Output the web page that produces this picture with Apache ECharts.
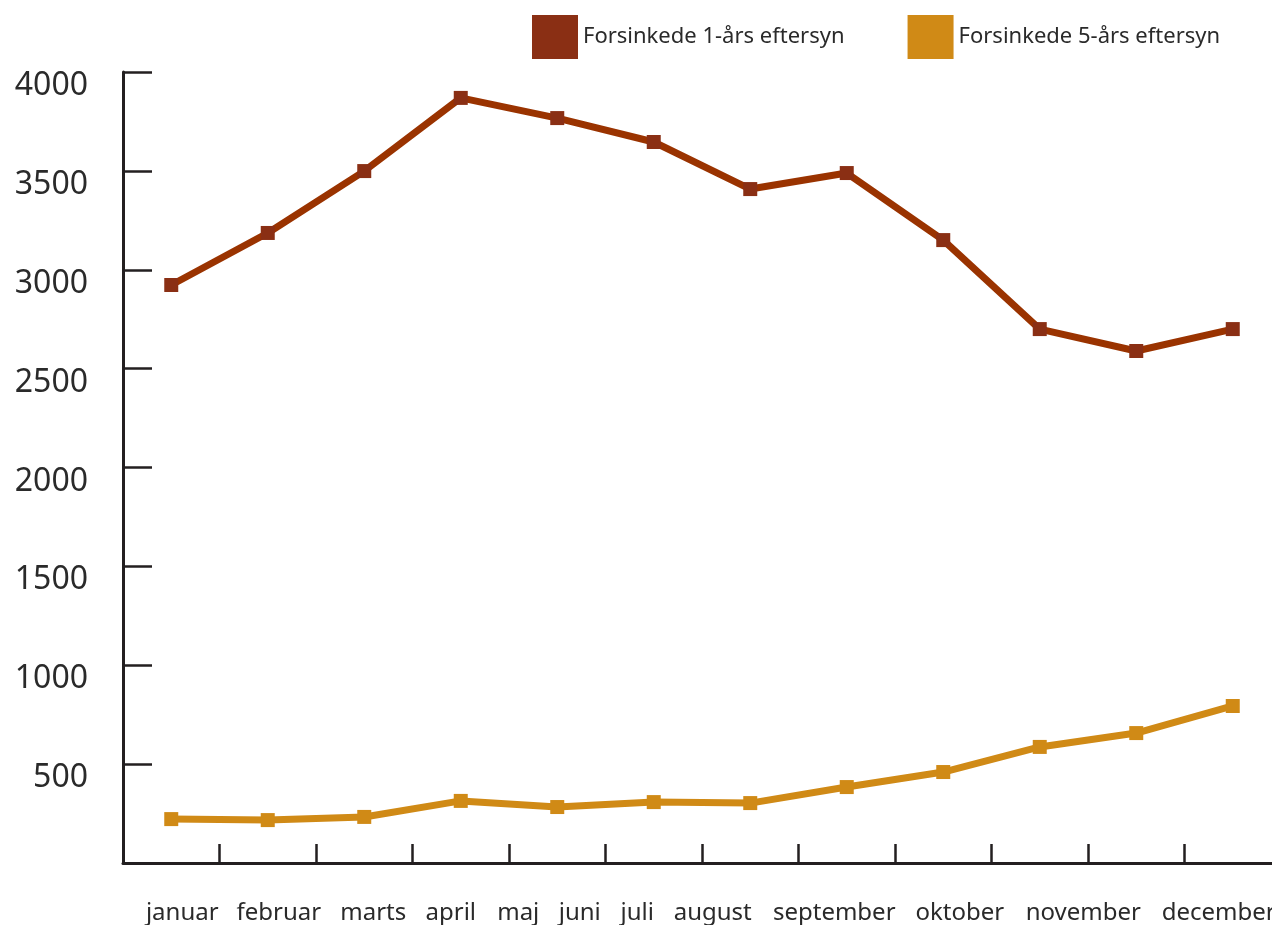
<!DOCTYPE html>
<html>
<head>
<meta charset="utf-8">
<script src="https://cdn.jsdelivr.net/npm/echarts@6/dist/echarts.min.js"></script>
<style>
html,body{margin:0;padding:0;background:#fff;}
#chart{width:1272px;height:925px;}
</style>
</head>
<body>
<div id="chart"></div>
<script>
var months = ['januar','februar','marts','april','maj','juni','juli','august','september','oktober','november','december'];
var seriesNames = ['Forsinkede 1-års eftersyn','Forsinkede 5-års eftersyn'];
var delayed1yr = [2923, 3186, 3499, 3869, 3767, 3646, 3408, 3489, 3150, 2700, 2589, 2700];
var delayed5yr = [222, 217, 233, 314, 283, 308, 303, 384, 460, 587, 657, 794];
var yTicks = [0, 500, 1000, 1500, 2000, 2500, 3000, 3500, 4000];

// label horizontal shifts (px) to mimic the reference's sequential label layout
var labelShift = [11, 11, 9, -10, -39, -74, -113, -134, -109, -80, -53, -14];

var FONT = 'Noto Sans';
var AXIS = '#231F20';
var rich = {};
labelShift.forEach(function (d, i) {
  var pad = d >= 0 ? [0, 0, 0, 2 * d] : [0, -2 * d, 0, 0];
  rich['l' + i] = { padding: pad, fontSize: 24, fontFamily: FONT, color: '#2a2a2a' };
});

var chart = echarts.init(document.getElementById('chart'));
chart.setOption({
  backgroundColor: '#ffffff',
  animation: false,
  legend: {
    left: 532, top: 15, padding: 0,
    itemWidth: 46, itemHeight: 44, itemGap: 63,
    icon: 'rect',
    textStyle: { fontFamily: FONT, fontSize: 22, color: '#2a2a2a' },
    data: [
      { name: seriesNames[0], itemStyle: { color: '#8A2F14' } },
      { name: seriesNames[1], itemStyle: { color: '#D08A16' } }
    ]
  },
  grid: { left: 123, top: 72, bottom: 62, width: 1158, containLabel: false, outerBoundsMode: 'none' },
  xAxis: {
    type: 'category',
    data: months,
    boundaryGap: true,
    axisLine: { lineStyle: { color: AXIS, width: 3 } },
    axisTick: { show: true, interval: 0, inside: true, length: 19, lineStyle: { color: AXIS, width: 2.5 } },
    axisLabel: {
      margin: 38, interval: 0,
      fontFamily: FONT, fontSize: 24, color: '#2a2a2a',
      formatter: function (v, i) { return '{l' + i + '|' + v + '}'; },
      rich: rich
    },
    splitLine: { show: false }
  },
  yAxis: {
    type: 'value',
    min: yTicks[0], max: yTicks[yTicks.length - 1], interval: 500,
    axisLine: { show: true, lineStyle: { color: AXIS, width: 3 } },
    axisTick: { show: true, inside: true, length: 29, lineStyle: { color: AXIS, width: 2.5 } },
    axisLabel: {
      margin: 35, fontFamily: FONT, fontSize: 32, color: '#2a2a2a',
      verticalAlign: 'top', lineHeight: 28,
      formatter: function (v) { return v === 0 ? '' : String(v); }
    },
    splitLine: { show: false }
  },
  series: [
    {
      name: seriesNames[0], type: 'line', data: delayed1yr,
      symbol: 'rect', symbolSize: 14,
      lineStyle: { color: '#9A3300', width: 7 },
      itemStyle: { color: '#8A2F14' }
    },
    {
      name: seriesNames[1], type: 'line', data: delayed5yr,
      symbol: 'rect', symbolSize: 14,
      lineStyle: { color: '#D08A16', width: 7 },
      itemStyle: { color: '#D08A16' }
    }
  ]
});
</script>
</body>
</html>
